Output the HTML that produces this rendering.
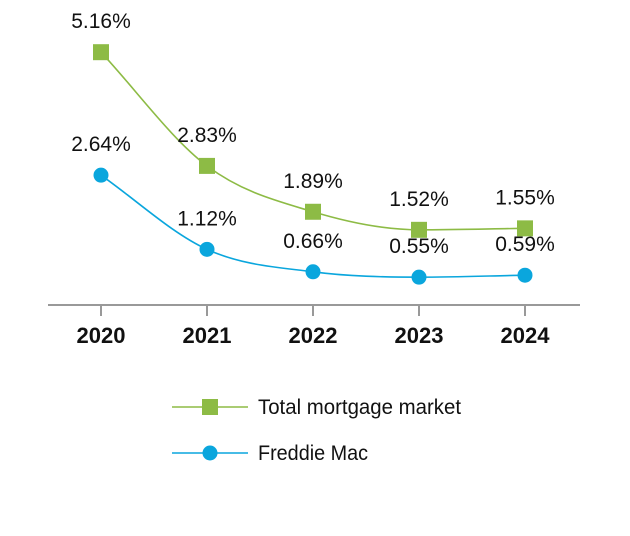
<!DOCTYPE html>
<html><head><meta charset="utf-8"><style>
body{margin:0;background:#fff}
svg{display:block;font-family:"Liberation Sans Narrow","Liberation Sans",sans-serif}
</style></head><body>
<svg id="c" width="630" height="536"></svg>
<script>
const categories=["2020","2021","2022","2023","2024"];
const totalMarket=[5.16,2.83,1.89,1.52,1.55];
const freddieMac=[2.64,1.12,0.66,0.55,0.59];
const svg=document.getElementById('c');
const NS='http://www.w3.org/2000/svg';
const x=i=>101+i*106;
const y=v=>304-v*48.8;
function mk(t,a,p){const e=document.createElementNS(NS,t);for(const k in a)e.setAttribute(k,a[k]);(p||svg).appendChild(e);return e;}
function path(vals){const p=vals.map((v,i)=>[x(i),y(v)]);const n=p.length;const d=[],m=[];
for(let i=0;i<n-1;i++)d.push((p[i+1][1]-p[i][1])/(p[i+1][0]-p[i][0]));
m[0]=d[0];m[n-1]=d[n-2];for(let i=1;i<n-1;i++)m[i]=d[i-1]*d[i]<=0?0:(d[i-1]+d[i])/2;
let s=`M${p[0][0]},${p[0][1]}`;for(let i=0;i<n-1;i++){const h=(p[i+1][0]-p[i][0])/3;
s+=` C${p[i][0]+h},${p[i][1]+m[i]*h} ${p[i+1][0]-h},${p[i+1][1]-m[i+1]*h} ${p[i+1][0]},${p[i+1][1]}`;}return s;}
const ax=mk('line',{x1:48,x2:580,y1:305,y2:305,stroke:'#999','stroke-width':2});

categories.forEach((c,i)=>{
const t=mk('line',{x1:x(i),x2:x(i),y1:305,y2:316,stroke:'#999','stroke-width':2});

const l=mk('text',{x:x(i),y:343,'text-anchor':'middle','font-size':22,'font-weight':'bold',fill:'#111'});l.textContent=c;
});
function series(vals,col,shape,name){
const g=mk('g',{});
mk('path',{d:path(vals),fill:'none',stroke:col,'stroke-width':1.6},g);
vals.forEach((v,i)=>{let mkr;
if(shape==='sq')mkr=mk('rect',{x:x(i)-8,y:y(v)-8,width:16,height:16,fill:col},g);
else mkr=mk('circle',{cx:x(i),cy:y(v),r:7.5,fill:col},g);

const t=mk('text',{x:x(i),y:y(v)-24,'text-anchor':'middle','font-size':21,fill:'#111'},g);t.textContent=v.toFixed(2)+'%';
});}
series(totalMarket,'#8dbb45','sq','total-mortgage-market');
series(freddieMac,'#0aa6dd','ci','freddie-mac');
function leg(yy,col,shape,label,name,w){const g=mk('g',{});
mk('line',{x1:172,x2:248,y1:yy,y2:yy,stroke:col,'stroke-width':1.6},g);
if(shape==='sq')mk('rect',{x:202,y:yy-8,width:16,height:16,fill:col},g);else mk('circle',{cx:210,cy:yy,r:7.5,fill:col},g);
const t=mk('text',{x:258,y:yy+7,'font-size':21,fill:'#111',textLength:w,lengthAdjust:'spacingAndGlyphs'},g);t.textContent=label;}
leg(407,'#8dbb45','sq','Total mortgage market','total',203);
leg(453,'#0aa6dd','ci','Freddie Mac','freddie',110);
</script></body></html>
